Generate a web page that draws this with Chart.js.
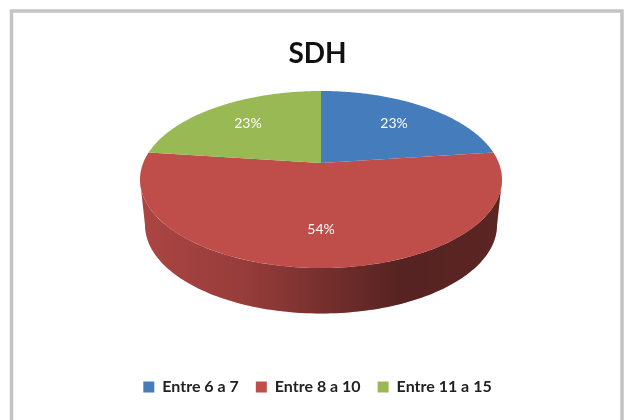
<!DOCTYPE html>
<html><head><meta charset="utf-8">
<style>html,body{margin:0;padding:0;background:#fff}#w{width:625px;height:420px;filter:blur(0.55px)}</style>
<script src="https://cdn.jsdelivr.net/npm/chart.js@4/dist/chart.umd.min.js"></script>
</head><body><div id="w"><canvas id="c" width="625" height="420"></canvas></div>
<script>
const categories = ["Entre 6 a 7", "Entre 8 a 10", "Entre 11 a 15"];
const values = [23, 54, 23];
const colors = ["#457cbc", "#bf4d4a", "#98b954"];
const chartTitle = "SDH";

// Perspective disc projection
const CX = 321, CY = 179.5, RX = 181, RY = 88.5, APEX = -16.5, DEPTH = 45.5, RX2 = 176;
const K = 2 * APEX / (2 * RY);
const A = RX * Math.sqrt(1 - K * K);
function proj(theta, r) {
  const u = r * Math.sin(theta), v = -r * Math.cos(theta), w = 1 + K * v;
  return [A * u / w, (RY * v + APEX) / w];
}
const FRONT0 = Math.acos(APEX / RY), FRONT1 = 2 * Math.PI - FRONT0;

const pie3d = {
  id: "pie3d",
  beforeDraw(chart) {
    const g = chart.ctx;
    g.save();
    g.fillStyle = "#fff"; g.fillRect(0, 0, 625, 420);
    g.strokeStyle = "#c4c4c4"; g.lineWidth = 3.5;
    g.beginPath();
    g.moveTo(11.5, 425); g.lineTo(11.5, 11); g.lineTo(622, 11); g.lineTo(622, 425);
    g.stroke();
    g.restore();
  },
  beforeDatasetDraw(chart, args) {
    const g = chart.ctx, arcs = chart.getDatasetMeta(args.index).data;
    const base = (a) => a + Math.PI / 2;
    g.save();
    arcs.forEach((el, i) => {
      const s = Math.max(base(el.startAngle), FRONT0), e = Math.min(base(el.endAngle), FRONT1);
      if (e <= s) return;
      g.beginPath();
      const n = 120;
      for (let j = 0; j <= n; j++) {
        const [x, y] = proj(s + (e - s) * j / n, 1);
        g.lineTo(CX + x, CY + y);
      }
      for (let j = n; j >= 0; j--) {
        const [x, y] = proj(s + (e - s) * j / n, 1);
        g.lineTo(CX + x * RX2 / RX, CY + y + DEPTH);
      }
      g.closePath();
      g.fillStyle = colors[i]; g.fill();
      const sh = g.createLinearGradient(CX - RX, 0, CX + RX, 0);
      sh.addColorStop(0, "rgba(0,0,0,0.10)");
      sh.addColorStop(0.3, "rgba(0,0,0,0.22)");
      sh.addColorStop(0.5, "rgba(0,0,0,0.38)");
      sh.addColorStop(0.72, "rgba(0,0,0,0.55)");
      sh.addColorStop(1, "rgba(0,0,0,0.52)");
      g.fillStyle = sh; g.fill();
    });
    arcs.forEach((el, i) => {
      const s = base(el.startAngle), e = base(el.endAngle);
      g.beginPath();
      const [ax, ay] = proj(0, 0);
      g.moveTo(CX + ax, CY + ay);
      const n = 160;
      for (let j = 0; j <= n; j++) {
        const [x, y] = proj(s + (e - s) * j / n, 1);
        g.lineTo(CX + x, CY + y);
      }
      g.closePath();
      g.fillStyle = colors[i]; g.fill();
    });
    g.font = "14px Lato";
    g.fillStyle = "#fff";
    g.textAlign = "center"; g.textBaseline = "middle";
    const total = values.reduce((a, b) => a + b, 0);
    arcs.forEach((el, i) => {
      const [x, y] = proj((base(el.startAngle) + base(el.endAngle)) / 2, 0.68);
      g.fillText(Math.round(values[i] / total * 100) + "%", CX + x, CY + y);
    });
    g.restore();
    return false;
  }
};

new Chart(document.getElementById("c"), {
  type: "pie",
  data: { labels: categories, datasets: [{ data: values, backgroundColor: colors, borderWidth: 0 }] },
  options: {
    responsive: false, animation: false,
    layout: { padding: { left: 10, right: 0, top: 0, bottom: 15 } },
    plugins: {
      tooltip: { enabled: false },
      title: { display: true, text: chartTitle, color: "#111",
        font: { family: "Lato", size: 28, weight: "bold" }, padding: { top: 37, bottom: 10 } },
      legend: { position: "bottom",
        labels: { boxWidth: 11, boxHeight: 11, padding: 17, color: "#222",
          font: { family: "Lato", size: 16, weight: "bold" } } }
    }
  },
  plugins: [pie3d]
});
</script></body></html>
